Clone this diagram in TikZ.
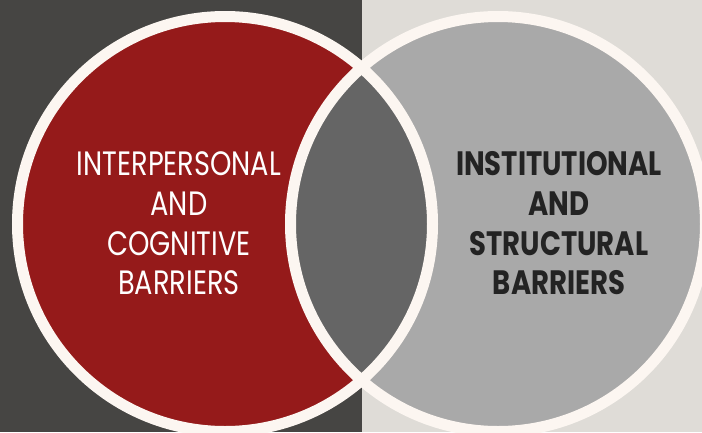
\documentclass[tikz,border=0pt]{standalone}
\usepackage{fontspec}
\setmainfont{Poppins}
\usepackage{graphicx}
\definecolor{bgdark}{HTML}{464543}
\definecolor{bglight}{HTML}{DFDCD7}
\definecolor{redfill}{HTML}{951A1A}
\definecolor{grayfill}{HTML}{A9A9A9}
\definecolor{midfill}{HTML}{656565}
\definecolor{ring}{HTML}{FCF6F1}
\definecolor{darktext}{HTML}{232323}
\tikzset{
  ringline/.style={draw=ring, line width=11pt},
  lefttext/.style={anchor=base, inner sep=0pt, text=white, font=\fontsize{33.8}{40}\selectfont},
  righttext/.style={anchor=base, inner sep=0pt, text=darktext, font=\fontsize{33.8}{40}\selectfont\bfseries},
}
\newcommand\sqL[1]{\scalebox{0.806}[1]{#1}}
\newcommand\sqR[1]{\scalebox{0.814}[1]{#1}}
\begin{document}
\begin{tikzpicture}[x=1pt,y=-1pt]
\useasboundingbox (0,0) rectangle (702,432);
\fill[bgdark] (0,0) rectangle (362,432);
\fill[bglight] (362,0) rectangle (702,432);
\coordinate (cl) at (225,224);
\coordinate (cr) at (498,224);
\fill[redfill] (cl) circle[radius=207.5];
\fill[grayfill] (cr) circle[radius=207.5];
\begin{scope}
  \clip (cl) circle[radius=207.5];
  \fill[midfill] (cr) circle[radius=207.5];
\end{scope}
\draw[ringline] (cl) circle[radius=207.5];
\draw[ringline] (cr) circle[radius=207.5];
\node[lefttext] (l1) at (179,175) {\sqL{INTERPERSONAL}};
\node[lefttext] (l2) at (179,215) {\sqL{AND}};
\node[lefttext] (l3) at (179,255) {\sqL{COGNITIVE}};
\node[lefttext] (l4) at (179,294) {\sqL{BARRIERS}};
\node[righttext] (r1) at (559,175) {\sqR{INSTITUTIONAL}};
\node[righttext] (r2) at (559,215) {\sqR{AND}};
\node[righttext] (r3) at (559,255) {\sqR{STRUCTURAL}};
\node[righttext] (r4) at (559,294) {\sqR{BARRIERS}};
\end{tikzpicture}
\end{document}
